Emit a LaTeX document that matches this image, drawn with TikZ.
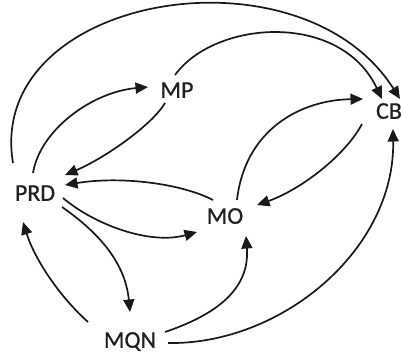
\documentclass[tikz,border=0pt]{standalone}
\usepackage{fontspec}
\setmainfont{Carlito}
\newfontfamily\lblfont{Carlito}[FakeBold=0.7]
\usetikzlibrary{arrows.meta,calc}

\begin{document}
\begin{tikzpicture}[x=1pt,y=-1pt,
  lbl/.style={inner sep=0pt, text height=15.5pt, text depth=0pt,
    font=\lblfont\fontsize{24}{24}\selectfont, text=black!88},
  link/.style={line width=1.7pt, draw=black!90,
    -{Triangle[length=12.5pt,width=11pt]}}]
  \useasboundingbox (0,0) rectangle (401,354);

  % entities
  \node[lbl] (MP)  at (177,90)  {MP};
  \node[lbl] (CB)  at (389,111) {CB};
  \node[lbl] (PRD) at (35,193)  {PRD};
  \node[lbl] (MO)  at (225,216) {MO};
  \node[lbl] (MQN) at (130,340) {MQN};

  % links out of PRD
  \draw[link] ($(PRD)+(-2,-20)$) .. controls +(7,-43) and +(-56,5) .. ($(MP)+(-29,-3)$);
  \draw[link] ($(PRD)+(-22,-30)$) .. controls +(-28,-168) and +(-100,-158) .. ($(CB)+(11,-12)$);
  \draw[link] ($(PRD)+(28,5)$) .. controls +(32,27) and +(-47,13) .. ($(MO)+(-28,16)$);
  \draw[link] ($(PRD)+(27,14)$) .. controls +(33,23) and +(-5,-52) .. ($(MQN)+(0,-28)$);

  % links out of MP
  \draw[link] ($(MP)+(-12,13)$) .. controls +(-13,22) and +(40,-17) .. ($(PRD)+(30,-18)$);
  \draw[link] ($(MP)+(-2,-15)$) .. controls +(40,-55) and +(-42,-88) .. ($(CB)+(-7,-12)$);

  % links between MO and CB
  \draw[link] ($(MO)+(12,-16)$) .. controls +(8,-70) and +(-63,1) .. ($(CB)+(-26,-12)$);
  \draw[link] ($(CB)+(-27,13)$) .. controls +(-17,32) and +(43,-15) .. ($(MO)+(32,-11)$);

  % MO back to PRD
  \draw[link] ($(MO)+(-12,-16)$) .. controls +(-33,-17) and +(55,-9) .. ($(PRD)+(30,-8)$);

  % links out of MQN
  \draw[link] ($(MQN)+(-42,-18)$) .. controls +(-28,-25) and +(12,38) .. ($(PRD)+(-12,29)$);
  \draw[link] ($(MQN)+(35,-8)$) .. controls +(50,-17) and +(4,54) .. ($(MO)+(21,20)$);
  \draw[link] ($(MQN)+(38,3)$) .. controls +(112,2) and +(2,122) .. ($(CB)+(4,18)$);
\end{tikzpicture}
\end{document}
